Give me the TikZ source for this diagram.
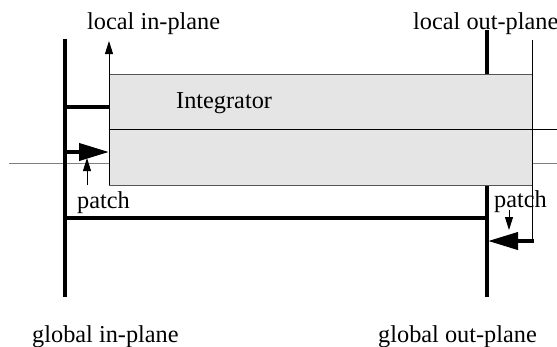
\documentclass[tikz,border=0pt]{standalone}
\usepackage{fontspec}
\setmainfont{Liberation Serif}
\usetikzlibrary{arrows.meta}
\definecolor{boxfill}{HTML}{E5E5E5}
\definecolor{boxedge}{HTML}{555555}
\definecolor{midgray}{HTML}{808080}
\begin{document}
\begin{tikzpicture}[x=1pt,y=-1pt,
  thickline/.style={line width=4pt},
  thinline/.style={line width=0.9pt},
  lbl/.style={font=\fontsize{24.3}{29}\selectfont, inner sep=0pt, anchor=base west},
  bigtip/.style={-{Triangle[length=30pt,width=17pt]}},
  smalltip/.style={-{Triangle[length=13pt,width=8pt]}}]
\useasboundingbox (0,0) rectangle (557,346);
% named points
\coordinate (gl0) at (9,163);
\coordinate (gl1) at (557,163);
\coordinate (gin0) at (65,39);
\coordinate (gin1) at (65,297);
\coordinate (gout0) at (487,30);
\coordinate (gout1) at (487,297);
\coordinate (boxnw) at (109,74);
\coordinate (boxse) at (532,185);
\coordinate (boxsw) at (109,185);
\coordinate (linTip) at (109,41);
\coordinate (midL) at (109,129);
\coordinate (midR) at (557,129);
\coordinate (rtop) at (532,40);
\coordinate (rbot) at (532,241);
% gray line
\draw[midgray, thinline] (gl0) -- (gl1);
% thick global planes
\draw[thickline] (gin0) -- (gin1);
\draw[thickline] (gout0) -- (gout1);
% integrator box
\filldraw[fill=boxfill, draw=boxedge, thinline] (boxnw) rectangle (boxse);
\draw[thinline] (midL) -- (midR);
% local in-plane arrow
\draw[thinline, smalltip] (boxsw) -- (linTip);
% local out-plane line
\draw[thinline] (rtop) -- (rbot);
% thick horizontals
\draw[thickline] (65,107) -- (109,107);
\draw[thickline] (63,218) -- (489,218);
% thick arrows
\draw[thickline, bigtip] (63,152) -- (109,152);
\draw[thickline, bigtip] (534,241) -- (488,241);
% patch arrows
\draw[thinline, smalltip] (87,185) -- (87,158);
\draw[thinline, smalltip] (509,210) -- (509,230);
% labels
\node[lbl] (lin) at (87,29) {local in-plane};
\node[lbl] (lout) at (413,29) {local out-plane};
\node[lbl] (integ) at (176,108) {Integrator};
\node[lbl] (pl) at (77,208) {patch};
\node[lbl] (pr) at (494,207) {patch};
\node[lbl] (gin) at (32,342) {global in-plane};
\node[lbl] (gout) at (378,342) {global out-plane};
\end{tikzpicture}
\end{document}
